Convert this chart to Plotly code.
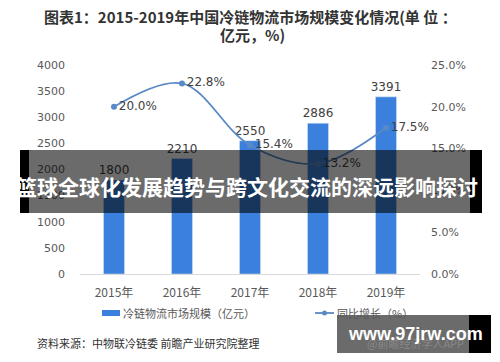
import plotly.graph_objects as go

categories = ["2015年", "2016年", "2017年", "2018年", "2019年"]
market_size = [1800, 2210, 2550, 2886, 3391]
growth = [20.0, 22.8, 15.4, 13.2, 17.5]
growth_labels = ["20.0%", "22.8%", "15.4%", "13.2%", "17.5%"]
bar_name = "冷链物流市场规模（亿元）"
line_name = "同比增长（%）"

FONT = "Noto Sans CJK SC"
GRAY = "#595959"
BAR_COLOR = "#3a80dc"
LINE_COLOR = "#5a8ac6"

fig = go.Figure()
fig.add_trace(go.Bar(
    x=categories, y=market_size, name=bar_name,
    marker_color=BAR_COLOR, width=0.31,
    text=[str(v) for v in market_size], textposition="outside",
    textfont=dict(size=12, color="#404040", family="DejaVu Sans"),
    constraintext="none", cliponaxis=False,
))
fig.add_trace(go.Scatter(
    x=categories, y=growth, name=line_name, yaxis="y2",
    mode="lines+markers+text", line=dict(color=LINE_COLOR, width=1.8, shape="spline", smoothing=1.0),
    marker=dict(size=6, color=LINE_COLOR),
    text=growth_labels, textposition="middle right",
    textfont=dict(size=12, color="#404040", family="DejaVu Sans"),
    cliponaxis=False,
))

def px_x(x):
    return (x - 80) / 340
def px_y(y):
    return (274 - y) / 209

fig.update_layout(
    width=500, height=362,
    margin=dict(l=80, r=80, t=65, b=88),
    paper_bgcolor="white", plot_bgcolor="white",
    font=dict(family=FONT, size=12, color=GRAY),
    showlegend=False,
    xaxis=dict(showline=True, linecolor="#d9d9d9", linewidth=1, showgrid=False,
               tickfont=dict(size=12, color=GRAY, family=FONT), ticks="", ticklabelstandoff=8),
    yaxis=dict(range=[0, 4000], dtick=500, showgrid=False, zeroline=False, ticklabelstandoff=14,
               tickfont=dict(size=11, color=GRAY, family="DejaVu Sans")),
    yaxis2=dict(range=[0, 25], dtick=5, overlaying="y", side="right", showgrid=False,
                zeroline=False, ticksuffix="%", tickformat=".1f", ticklabelstandoff=10,
                tickfont=dict(size=11, color=GRAY, family="DejaVu Sans")),
)

# Legend (drawn manually)
fig.add_shape(type="rect", xref="paper", yref="paper", x0=px_x(102), x1=px_x(120), y0=px_y(316), y1=px_y(310),
              fillcolor=BAR_COLOR, line_width=0)
fig.add_annotation(xref="paper", yref="paper", x=px_x(121), xanchor="left", y=px_y(313), yanchor="middle",
                   showarrow=False, text=bar_name, font=dict(size=11, color=GRAY, family=FONT))
fig.add_shape(type="line", xref="paper", yref="paper", x0=px_x(315), x1=px_x(334), y0=px_y(313), y1=px_y(313),
              line=dict(color=LINE_COLOR, width=1.8))
fig.add_shape(type="circle", xref="paper", yref="paper", x0=px_x(322), x1=px_x(327), y0=px_y(315.5), y1=px_y(310.5),
              fillcolor=LINE_COLOR, line_width=0)
fig.add_annotation(xref="paper", yref="paper", x=px_x(335), xanchor="left", y=px_y(313), yanchor="middle",
                   showarrow=False, text=line_name, font=dict(size=11, color=GRAY, family=FONT))

# Title (two lines)
fig.add_annotation(xref="paper", yref="paper", x=px_x(250), y=px_y(17), showarrow=False,
                   xanchor="center", yanchor="middle",
                   text="<b>图表1：2015-2019年中国冷链物流市场规模变化情况(单 位 ：</b>",
                   font=dict(size=15, color="#333333", family=FONT))
fig.add_annotation(xref="paper", yref="paper", x=px_x(252), y=px_y(34), showarrow=False,
                   xanchor="center", yanchor="middle",
                   text="<b>亿元，%)</b>",
                   font=dict(size=15, color="#333333", family=FONT))

# Source
fig.add_annotation(xref="paper", yref="paper", x=px_x(35), xanchor="left", y=px_y(343), yanchor="middle",
                   showarrow=False, text="资料来源：中物联冷链委 前瞻产业研究院整理",
                   font=dict(size=11, color="#333333", family=FONT))
fig.add_annotation(xref="paper", yref="paper", x=px_x(415), xanchor="center", y=px_y(343), yanchor="middle",
                   showarrow=False, text="@前瞻经济学人APP",
                   font=dict(size=11, color="#888888", family=FONT))

# Overlay banner (center)
fig.add_shape(type="rect", xref="paper", yref="paper", x0=px_x(20), x1=px_x(29), y0=px_y(213), y1=px_y(150),
              fillcolor="black", line_width=0, layer="above")
fig.add_shape(type="rect", xref="paper", yref="paper", x0=px_x(29), x1=px_x(470), y0=px_y(213), y1=px_y(150),
              fillcolor="rgba(0,0,0,0.58)", line_width=0, layer="above")
fig.add_shape(type="rect", xref="paper", yref="paper", x0=px_x(470), x1=px_x(482), y0=px_y(213), y1=px_y(150),
              fillcolor="black", line_width=0, layer="above")
fig.add_annotation(xref="paper", yref="paper", x=px_x(247), y=px_y(186), showarrow=False,
                   text="<b>篮球全球化发展趋势与跨文化交流的深远影响探讨</b>",
                   font=dict(size=21, color="white", family=FONT))

# Watermark banner (bottom right)
fig.add_shape(type="rect", xref="paper", yref="paper", x0=px_x(337), x1=px_x(469), y0=px_y(353), y1=px_y(315),
              fillcolor="rgba(0,0,0,0.58)", line_width=0, layer="above")
fig.add_shape(type="rect", xref="paper", yref="paper", x0=px_x(469), x1=px_x(491), y0=px_y(353), y1=px_y(315),
              fillcolor="black", line_width=0, layer="above")
fig.add_annotation(xref="paper", yref="paper", x=px_x(346), xanchor="left", y=px_y(334), yanchor="middle",
                   showarrow=False, text="<b>www.97jrw.com</b>",
                   font=dict(size=18, color="white", family="Liberation Sans"))

fig.write_html("out.html", post_script="document.body.style.margin='0';",
               config={"displayModeBar": False})
